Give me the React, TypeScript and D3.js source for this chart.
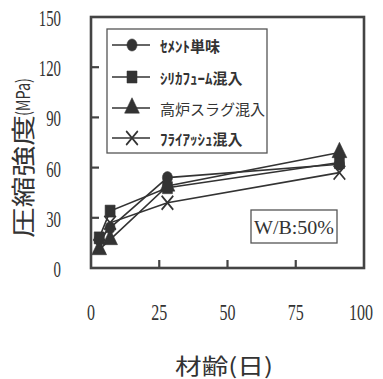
import React from "react";
import * as d3 from "d3";

const days = [3, 7, 28, 91];
const cementOnly = [17, 24, 54, 62];
const silicaFume = [18, 34, 48, 63];
const blastFurnaceSlag = [11, 17, 49, 69];
const flyAsh = [13, 27, 39, 57];
const seriesNames = ["ｾﾒﾝﾄ単味", "ｼﾘｶﾌｭｰﾑ混入", "高炉スラグ混入", "ﾌﾗｲｱｯｼｭ混入"];
const xTicks = [0, 25, 50, 75, 100];
const yTicks = [0, 30, 60, 90, 120, 150];
const xTitle = "材齢(日)";
const yTitleMain = "圧縮強度";
const yTitleUnit = "(MPa)";
const note = "W/B:50%";

const W = 383;
const H = 379;
const L = 91, R = 364, T = 17, B = 268;
const ink = "#333";

const x = d3.scaleLinear().domain([0, 100]).range([L, R]);
const y = d3.scaleLinear().domain([0, 150]).range([B, T]);

const seriesValues = [cementOnly, silicaFume, blastFurnaceSlag, flyAsh];
const symbolTypes = [d3.symbolCircle, d3.symbolSquare, d3.symbolTriangle, d3.symbolTimes];
const symbolSizes = [80, 100, 95, 90];

const line = d3.line<[number, number]>().x(d => x(d[0])).y(d => y(d[1]));

function Marker({ i, cx, cy }: { i: number; cx: number; cy: number }) {
  const path = d3.symbol().type(symbolTypes[i]).size(symbolSizes[i])() || "";
  const stroke = i === 3;
  return (
    <path
      d={path}
      transform={`translate(${cx},${cy}) scale(1,1.2)`}
      fill={stroke ? "none" : ink}
      stroke={ink}
      strokeWidth={stroke ? 1.6 : 0.5}
    />
  );
}

export default function App() {
  const legendX0 = 112, legendX1 = 150, legendMx = 132, legendTextX = 160;
  const legendYs = [45, 77, 108, 138];
  return (
    <svg
      width={W}
      height={H}
      style={{ position: "absolute", left: 0, top: 0, background: "#fff" }}
    >
      <rect x={0} y={0} width={W} height={H} fill="#fff" />
      {/* series */}
      {seriesValues.map((vals, i) => (
        <g key={i}>
          <path
            d={line(days.map((d, j) => [d, vals[j]] as [number, number])) || ""}
            fill="none"
            stroke={ink}
            strokeWidth={1.6}
          />
          {days.map((d, j) => (
            <Marker key={j} i={i} cx={x(d)} cy={y(vals[j])} />
          ))}
        </g>
      ))}
      {/* frame */}
      <rect x={L} y={T} width={R - L} height={B - T} fill="none" stroke="#444" strokeWidth={2.6} />
      {/* ticks */}
      {yTicks.slice(1, -1).map(t => (
        <line key={t} x1={L} x2={L + 8} y1={y(t)} y2={y(t)} stroke="#444" strokeWidth={2.2} />
      ))}
      {xTicks.slice(1, -1).map(t => (
        <line key={t} x1={x(t)} x2={x(t)} y1={B} y2={B - 8} stroke="#444" strokeWidth={2.2} />
      ))}
      {/* tick labels */}
      {yTicks.map(t => (
        <text
          key={t}
          x={61}
          y={y(t) + 1}
          textAnchor="end"
          dominantBaseline="central"
          fontFamily="'Liberation Serif', serif"
          fontSize={24}
          fill={ink}
          textLength={String(t).length * 7.4}
          lengthAdjust="spacingAndGlyphs"
        >
          {t}
        </text>
      ))}
      {xTicks.map(t => (
        <text
          key={t}
          x={x(t) - (t === 100 ? 3 : 0)}
          y={312}
          textAnchor="middle"
          dominantBaseline="central"
          fontFamily="'Liberation Serif', serif"
          fontSize={23}
          fill={ink}
          textLength={String(t).length * 8}
          lengthAdjust="spacingAndGlyphs"
        >
          {t}
        </text>
      ))}
      {/* axis titles */}
      <text
        x={224}
        y={364}
        textAnchor="middle"
        dominantBaseline="central"
        fontFamily="'Noto Sans CJK JP', sans-serif"
        fontSize={22}
        fill={ink}
        textLength={98}
        lengthAdjust="spacingAndGlyphs"
      >
        {xTitle}
      </text>
      <text
        transform="translate(21,176.5) rotate(-90)"
        textAnchor="middle"
        dominantBaseline="central"
        fontFamily="'Noto Sans CJK JP', sans-serif"
        fontSize={24}
        fill={ink}
        textLength={123}
        lengthAdjust="spacingAndGlyphs"
      >
        {yTitleMain}
      </text>
      <text
        transform="translate(21,97) rotate(-90)"
        textAnchor="middle"
        dominantBaseline="central"
        fontFamily="'Noto Sans CJK JP', sans-serif"
        fontSize={19}
        fill={ink}
        textLength={38}
        lengthAdjust="spacingAndGlyphs"
      >
        {yTitleUnit}
      </text>
      {/* legend */}
      <rect x={107} y={29} width={160} height={124} fill="#fff" stroke="#555" strokeWidth={1.3} />
      {seriesNames.map((name, i) => (
        <g key={name}>
          <line x1={legendX0} x2={legendX1} y1={legendYs[i]} y2={legendYs[i]} stroke={ink} strokeWidth={1.6} />
          <Marker i={i} cx={legendMx} cy={legendYs[i]} />
          <text
            x={legendTextX}
            y={legendYs[i]}
            dominantBaseline="central"
            fontFamily="'Noto Sans CJK JP', sans-serif"
            fontSize={15}
            fontWeight={i === 2 ? 400 : 700}
            fill={ink}
          >
            {name}
          </text>
        </g>
      ))}
      {/* note box */}
      <rect x={251} y={210} width={86} height={33} fill="#fff" stroke="#555" strokeWidth={1.3} />
      <text
        x={294}
        y={227.5}
        textAnchor="middle"
        dominantBaseline="central"
        fontFamily="'Liberation Serif', serif"
        fontSize={19}
        fill={ink}
        textLength={80}
        lengthAdjust="spacingAndGlyphs"
      >
        {note}
      </text>
    </svg>
  );
}
